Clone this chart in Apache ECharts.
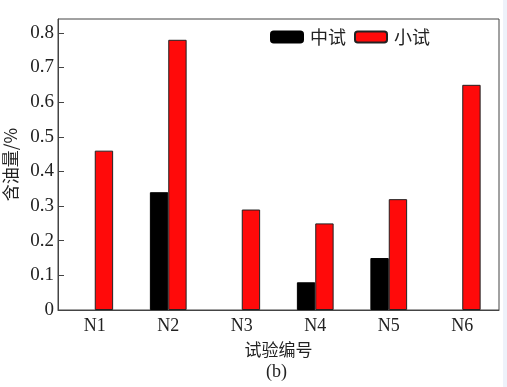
<!DOCTYPE html>
<html>
<head>
<meta charset="utf-8">
<style>
html,body{margin:0;padding:0;background:#fff;}
#chart{width:507px;height:387px;}
</style>
<script src="https://cdn.jsdelivr.net/npm/echarts@6/dist/echarts.min.js"></script>
</head>
<body>
<div id="chart"></div>
<script>
var categories = ['N1', 'N2', 'N3', 'N4', 'N5', 'N6'];
var pilotValues = [null, 0.34, null, 0.08, 0.15, null];   // 中试
var smallValues = [0.46, 0.78, 0.29, 0.25, 0.32, 0.65];   // 小试
var seriesNames = ['中试', '小试'];
var yTicks = { min: 0, max: 0.84, interval: 0.1 };

var serif = '"Liberation Serif", "Times New Roman", serif';
var cjk = '"Noto Sans CJK SC", sans-serif';

var chart = echarts.init(document.getElementById('chart'), null, { renderer: 'canvas' });
chart.setOption({
  animation: false,
  backgroundColor: '#fff',
  grid: { left: 58, right: 8, top: 19, bottom: 77, show: true, borderColor: '#444', borderWidth: 1,
    backgroundColor: 'transparent', containLabel: false, outerBoundsMode: 'none' },
  legend: {
    left: 265, top: 23,
    itemWidth: 32, itemHeight: 11, itemGap: 8,
    textStyle: { fontFamily: cjk, fontSize: 18, color: '#222', padding: [0, 0, 0, 2] },
    data: seriesNames
  },
  xAxis: {
    type: 'category',
    data: categories,
    axisLine: { lineStyle: { color: '#444', width: 1 } },
    axisTick: { show: false },
    axisLabel: { fontFamily: serif, fontSize: 18, color: '#222', margin: 7 },
    name: '试验编号',
    nameLocation: 'middle',
    nameGap: 31,
    nameTextStyle: { fontFamily: cjk, fontSize: 17, color: '#222' }
  },
  yAxis: {
    type: 'value',
    min: yTicks.min, max: yTicks.max, interval: yTicks.interval,
    splitLine: { show: false },
    axisLine: { show: true, lineStyle: { color: '#444', width: 1 } },
    axisTick: { show: true, inside: true, length: 6, lineStyle: { color: '#444' } },
    axisLabel: { fontFamily: serif, fontSize: 19, color: '#222', margin: 4, showMaxLabel: false,
      formatter: function (v) { return v === 0 ? '0' : v.toFixed(1); } },
    name: '含油量/%',
    nameLocation: 'middle',
    nameGap: 34,
    nameTextStyle: { fontFamily: cjk, fontSize: 17, color: '#222' }
  },
  graphic: [
    { type: 'text', left: 266, top: 363, style: { text: '(b)', font: '18px "Liberation Serif", serif', fill: '#222' } },
    { type: 'rect', shape: { x: 503, y: 0, width: 4, height: 387 }, style: { fill: '#eef2fa' }, silent: true }
  ],
  series: [
    {
      name: seriesNames[0], type: 'bar', data: pilotValues,
      barWidth: '25%', barGap: '0%',
      itemStyle: { color: '#000', borderColor: '#000', borderWidth: 1 }
    },
    {
      name: seriesNames[1], type: 'bar', data: smallValues,
      barWidth: '25%', barGap: '0%',
      itemStyle: { color: '#ff0a0a', borderColor: '#222', borderWidth: 1 }
    }
  ]
});
</script>
</body>
</html>
